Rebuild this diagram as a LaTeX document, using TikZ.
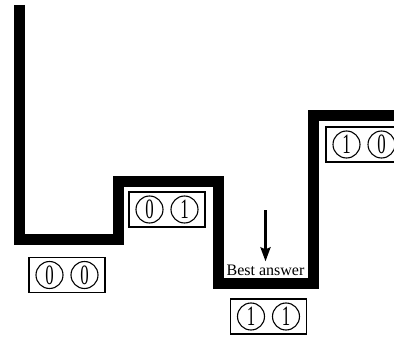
\documentclass[tikz,border=0pt]{standalone}
\usepackage{fontspec}
\setmainfont{Liberation Serif}
\usetikzlibrary{arrows.meta}
\begin{document}
\begin{tikzpicture}[x=1pt,y=-1pt,
  wall/.style={line width=11pt,line join=miter,line cap=butt},
  statebox/.style={draw,line width=1.1pt,minimum width=76pt,minimum height=35pt,inner sep=0pt},
  bit/.style={draw,circle,line width=1.1pt,minimum size=27pt,inner sep=0pt,font=\fontsize{28}{28}\selectfont},
  lbl/.style={font=\fontsize{16}{16}\selectfont,inner sep=0pt}]
\useasboundingbox (0,0) rectangle (394,337);
\clip (0,0) rectangle (394,337);
\coordinate (w0) at (19.5,5);
\coordinate (w1) at (19.5,239);
\coordinate (w2) at (118.5,239);
\coordinate (w3) at (118.5,181);
\coordinate (w4) at (218,181);
\coordinate (w5) at (218,283.5);
\coordinate (w6) at (313.5,283.5);
\coordinate (w7) at (313.5,115.5);
\coordinate (w8) at (400,115.5);
\draw[wall] (w0) -- (w1) -- (w2) -- (w3) -- (w4) -- (w5) -- (w6) -- (w7) -- (w8);
% state boxes
\node[statebox] (b00) at (67,275) {};
\node[bit] (b00a) at ([xshift=-17.5pt]b00.center) {\scalebox{0.6}[1]{0}};
\node[bit] (b00b) at ([xshift=17.5pt]b00.center) {\scalebox{0.6}[1]{0}};
\node[statebox] (b01) at (167,209.5) {};
\node[bit] (b01a) at ([xshift=-17.5pt]b01.center) {\scalebox{0.6}[1]{0}};
\node[bit] (b01b) at ([xshift=17.5pt]b01.center) {\scalebox{0.6}[1]{1}};
\node[statebox] (b11) at (268.5,316.5) {};
\node[bit] (b11a) at ([xshift=-17.5pt]b11.center) {\scalebox{0.6}[1]{1}};
\node[bit] (b11b) at ([xshift=17.5pt]b11.center) {\scalebox{0.6}[1]{1}};
\node[statebox] (b10) at (364,144.5) {};
\node[bit] (b10a) at ([xshift=-17.5pt]b10.center) {\scalebox{0.6}[1]{1}};
\node[bit] (b10b) at ([xshift=17.5pt]b10.center) {\scalebox{0.6}[1]{0}};
% best answer
\node[lbl,anchor=base] (best) at (265.5,275) {Best answer};
\coordinate (atop) at (265.5,210);
\draw[line width=2.6pt,-{Stealth[length=14pt,width=10pt,inset=2pt]}] (atop) -- ([yshift=3pt]best.north);
\end{tikzpicture}
\end{document}
